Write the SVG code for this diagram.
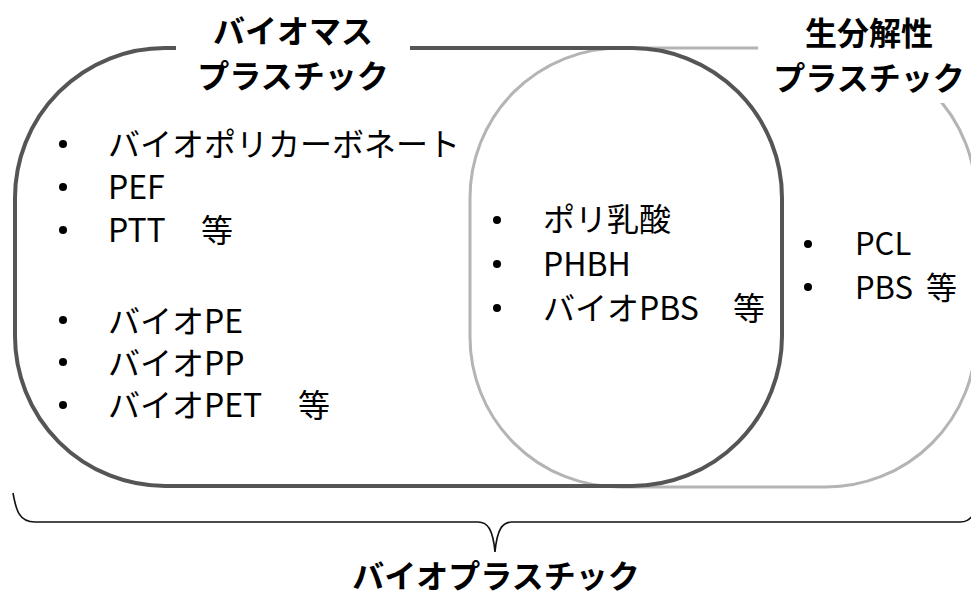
<svg xmlns="http://www.w3.org/2000/svg" width="971" height="598" viewBox="0 0 971 598">
<style>
.t{font-family:"Noto Sans CJK JP","Noto Sans",sans-serif;font-size:32px;fill:#000}
.s{font-size:31px}
.b{font-weight:bold}
.dark{fill:none;stroke:#555;stroke-width:4}
.light{fill:none;stroke:#b4b4b4;stroke-width:3}
.brace{fill:none;stroke:#111;stroke-width:1.6}
.dot{fill:#000}
</style>
<rect width="971" height="598" fill="#fff"/>
<g id="biodegradable">
<rect class="light" x="470" y="48" width="506" height="439" rx="150" ry="150"/>
</g>
<g id="biomass">
<rect class="dark" x="15" y="48" width="767" height="438" rx="150" ry="150"/>
</g>
<g id="title-biomass">
<rect x="176" y="0" width="234" height="100" fill="#fff"/>
<text class="t b" x="293" y="43" text-anchor="middle">バイオマス</text>
<text class="t b" x="293" y="88" text-anchor="middle">プラスチック</text>
</g>
<g id="title-biodegradable">
<rect x="758" y="0" width="213" height="103" fill="#fff"/>
<text class="t b" x="869" y="45" text-anchor="middle">生分解性</text>
<text class="t b" x="869" y="90" text-anchor="middle">プラスチック</text>
</g>
<g id="list-biomass">
<circle class="dot" cx="63" cy="144" r="4"/>
<circle class="dot" cx="63" cy="187" r="4"/>
<circle class="dot" cx="63" cy="230" r="4"/>
<circle class="dot" cx="63" cy="320" r="4"/>
<circle class="dot" cx="63" cy="362" r="4"/>
<circle class="dot" cx="63" cy="405" r="4"/>
<text class="t" x="108" y="156">バイオポリカーボネート</text>
<text class="t" x="108" y="199">PEF</text>
<text class="t" x="108" y="242">PTT　<tspan x="201">等</tspan></text>
<text class="t" x="108" y="333">バイオPE</text>
<text class="t" x="108" y="375">バイオPP</text>
<text class="t" x="108" y="417">バイオPET　<tspan x="298">等</tspan></text>
</g>
<g id="list-both">
<circle class="dot" cx="497" cy="220" r="4"/>
<circle class="dot" cx="497" cy="264" r="4"/>
<circle class="dot" cx="497" cy="308" r="4"/>
<text class="t" x="543" y="231">ポリ乳酸</text>
<text class="t" x="543" y="276">PHBH</text>
<text class="t" x="543" y="320">バイオPBS　<tspan x="733">等</tspan></text>
</g>
<g id="list-biodegradable">
<circle class="dot" cx="808" cy="244" r="4"/>
<circle class="dot" cx="808" cy="287" r="4"/>
<text class="t s" x="855" y="255">PCL</text>
<text class="t s" x="855" y="299">PBS <tspan x="926">等</tspan></text>
</g>
<g id="connectors">
<path class="brace" d="M13,493 C16,510 19,522 35,522 L478,522 C488,522 493,530 495,552 C497,530 502,522 512,522 L960,522 C966,522 969,520 973,515"/>
</g>
<g id="bioplastic-label">
<text class="t b" x="496" y="588" text-anchor="middle">バイオプラスチック</text>
</g>
</svg>
